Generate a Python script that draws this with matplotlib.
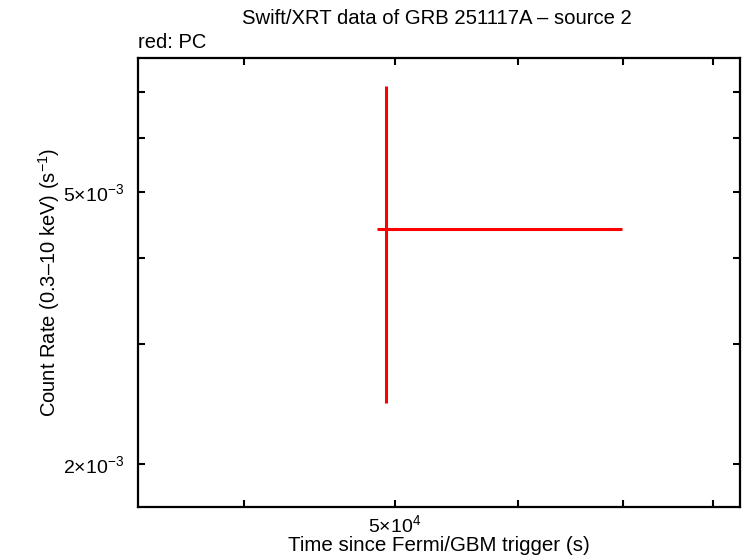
import matplotlib
matplotlib.use("Agg")
import matplotlib.pyplot as plt
from matplotlib.ticker import FixedLocator, FixedFormatter, NullFormatter

plt.rcParams['font.family'] = ['Liberation Sans', 'DejaVu Sans']
plt.rcParams['mathtext.fontset'] = 'custom'
plt.rcParams['mathtext.rm'] = 'Liberation Sans'
plt.rcParams['mathtext.it'] = 'Liberation Sans'

# Data (PC mode)
time = [49330.0]
time_lo = [48700.0]
time_hi = [69950.0]
rate = [4.41e-3]
rate_lo = [2.46e-3]
rate_hi = [7.15e-3]

x_major = [5e4]
x_major_labels = [r'5$\times$10$^{4}$']
x_minor = [4e4, 6e4, 7e4, 8e4]
y_major = [2e-3, 5e-3]
y_major_labels = [r'2$\times$10$^{-3}$', r'5$\times$10$^{-3}$']
y_minor = [3e-3, 4e-3, 6e-3, 7e-3]

fig = plt.figure(figsize=(7.46, 5.58), dpi=100)
ax = fig.add_axes([138/746, 1 - 507/558, (740 - 138)/746, (507 - 58)/558])
ax.set_xscale('log')
ax.set_yscale('log')

xerr = [[t - lo for t, lo in zip(time, time_lo)], [hi - t for t, hi in zip(time, time_hi)]]
yerr = [[r - lo for r, lo in zip(rate, rate_lo)], [hi - r for r, hi in zip(rate, rate_hi)]]
ax.errorbar(time, rate, xerr=xerr, yerr=yerr, fmt='none', ecolor='#ff0000',
            elinewidth=2.2, capsize=0)

ax.set_xlim(34200, 83250)
ax.set_ylim(1.731e-3, 7.85e-3)

ax.xaxis.set_major_locator(FixedLocator(x_major))
ax.xaxis.set_major_formatter(FixedFormatter(x_major_labels))
ax.xaxis.set_minor_locator(FixedLocator(x_minor))
ax.xaxis.set_minor_formatter(NullFormatter())
ax.yaxis.set_major_locator(FixedLocator(y_major))
ax.yaxis.set_major_formatter(FixedFormatter(y_major_labels))
ax.yaxis.set_minor_locator(FixedLocator(y_minor))
ax.yaxis.set_minor_formatter(NullFormatter())

ax.tick_params(which='both', direction='in', top=True, right=True,
               length=5, width=1.5, labelsize=14)
ax.tick_params(axis='y', pad=10)
ax.tick_params(axis='x', pad=5)
for s in ax.spines.values():
    s.set_linewidth(1.6)

ax.set_xlabel('Time since Fermi/GBM trigger (s)', fontsize=14.8, labelpad=0)
ax.set_ylabel('Count Rate (0.3\u201310 keV) (s$^{-1}$)', fontsize=14.5, labelpad=1)

fig.text(437/746, 1 - 19/558, 'Swift/XRT data of GRB 251117A \u2013 source 2',
         ha='center', va='center', fontsize=14.6)
fig.text(138/746, 1 - 42/558, 'red: PC', ha='left', va='center', fontsize=14.5)

fig.savefig('out.png', dpi=100)
